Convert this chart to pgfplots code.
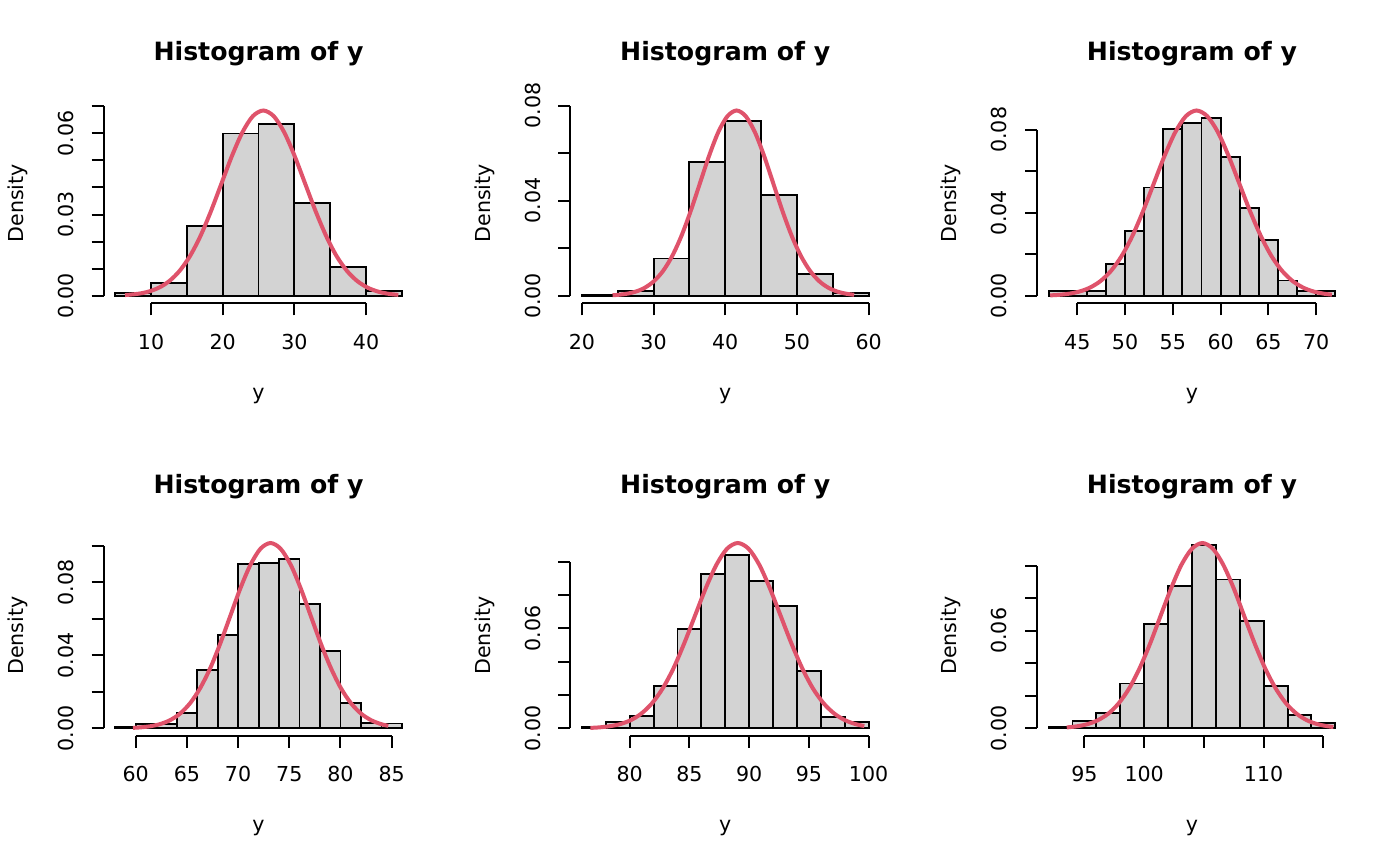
\documentclass[border=0pt]{standalone}
\usepackage{fontspec}
\setmainfont{DejaVu Sans}
\usepackage{pgfplots}
\usepackage{pgfplotstable}
\pgfplotsset{compat=1.18}
\definecolor{rgray}{HTML}{D3D3D3}
\definecolor{rred}{HTML}{DF536B}
\tikzset{aline/.style={line width=1bp, black}}
\pgfplotsset{
  rhist/.style={
    scale only axis, width=154.85bp, height=100.1bp,
    anchor=south west, clip=false,
    axis line style={draw=none},
    tick align=outside, major tick length=6bp,
    tick style={line width=1bp, black},
    major tick style={line width=1bp, black},
    xtick pos=left, ytick pos=left,
    minor tick num=0,
    tick label style={font=\fontsize{10.3bp}{12bp}\selectfont},
    x tick label style={anchor=base, yshift=-17bp},
    y tick label style={xshift=-9.2bp, rotate=90, anchor=base},
    title style={font=\bfseries\fontsize{12.6bp}{15bp}\selectfont, at={(0.5,1.1514)}, anchor=base},
    xlabel style={font=\fontsize{10.3bp}{12bp}\selectfont, at={(0.5,-0.4805)}, anchor=base},
    ylabel style={font=\fontsize{10.3bp}{12bp}\selectfont, at={(-0.2596,0.5)}, anchor=base},
    title={Histogram of y}, xlabel={y}, ylabel={Density},
    scaled y ticks=false, scaled x ticks=false,
  },
  barfill/.style={ybar interval, fill=rgray, draw=none},
  barline/.style={ybar interval, fill=none, draw=black, line width=0.95bp},
  baredge/.style={ycomb, black, line width=0.95bp, no marks},
  dens/.style={smooth, rred, line width=2bp, no marks},
}
% histogram densities: left bin edge, density (last row = right edge)
\pgfplotstableread{
x d
5 0.0011
10 0.0049
15 0.0257
20 0.0599
25 0.0634
30 0.0344
35 0.0108
40 0.0018
45 0.0018
}\hA
\pgfplotstableread{
x d
20 0.0005
25 0.0022
30 0.0157
35 0.0564
40 0.0735
45 0.0424
50 0.0091
55 0.0013
60 0.0013
}\hB
\pgfplotstableread{
x d
42 0.0022
44 0.0022
46 0.0022
48 0.0154
50 0.0312
52 0.0522
54 0.0803
56 0.0831
58 0.0859
60 0.0671
62 0.0422
64 0.0267
66 0.0074
68 0.0022
70 0.0022
72 0.0022
}\hC
\pgfplotstableread{
x d
58 0.0007
60 0.0026
62 0.0026
64 0.0086
66 0.0320
68 0.0511
70 0.0900
72 0.0906
74 0.0930
76 0.0681
78 0.0424
80 0.0137
82 0.0031
84 0.0027
86 0.0027
}\hD
\pgfplotstableread{
x d
76 0.0008
78 0.0036
80 0.0076
82 0.0256
84 0.0596
86 0.0928
88 0.1038
90 0.0882
92 0.0736
94 0.0346
96 0.0070
98 0.0040
100 0.0040
}\hE
\pgfplotstableread{
x d
92 0.0006
94 0.0045
96 0.0092
98 0.0276
100 0.0639
102 0.0874
104 0.1126
106 0.0915
108 0.0661
110 0.0262
112 0.0082
114 0.0033
116 0.0033
}\hF
\begin{document}
\begin{tikzpicture}
\useasboundingbox (0,0) rectangle (700bp,432.5bp);
% ---------- panel 1
\begin{axis}[rhist, at={(51.85bp,280.85bp)},
  xmin=3.4, xmax=46.6, ymin=-0.002736, ymax=0.071136,
  xtick={10,20,30,40}, xticklabels={10,20,30,40},
  ytick={0,0.01,0.02,0.03,0.04,0.05,0.06,0.07},
  yticklabels={0.00,,,0.03,,,0.06,}]
\addplot[barfill] table[x=x,y=d] {\hA};
\addplot[barline] table[x=x,y=d] {\hA};
\addplot[baredge] table[x=x,y=d] {\hA};
\addplot[dens] coordinates {(6.37,0.00029)(8.17,0.00076)(9.63,0.00156)(11.09,0.00301)(12.54,0.00544)(14.00,0.00926)(15.46,0.01479)(16.92,0.02221)(18.37,0.03132)(19.83,0.04149)(21.29,0.05163)(22.75,0.06036)(24.20,0.06630)(25.66,0.0684)(27.12,0.06630)(28.58,0.06036)(30.03,0.05163)(31.49,0.04149)(32.95,0.03132)(34.41,0.02221)(35.86,0.01479)(37.32,0.00926)(38.78,0.00544)(40.24,0.00301)(41.69,0.00156)(43.15,0.00076)(44.50,0.00037)};
\draw[aline] (axis cs:10,-0.002736) -- (axis cs:40,-0.002736);
\draw[aline] (axis cs:3.4,0) -- (axis cs:3.4,0.07);
\end{axis}
% ---------- panel 2
\begin{axis}[rhist, at={(285.2bp,280.85bp)},
  xmin=18.4, xmax=61.6, ymin=-0.003116, ymax=0.081016,
  xtick={20,30,40,50,60}, xticklabels={20,30,40,50,60},
  ytick={0,0.02,0.04,0.06,0.08},
  yticklabels={0.00,,0.04,,0.08}]
\addplot[barfill] table[x=x,y=d] {\hB};
\addplot[barline] table[x=x,y=d] {\hB};
\addplot[baredge] table[x=x,y=d] {\hB};
\addplot[dens] coordinates {(24.28,0.00026)(24.94,0.00040)(26.22,0.00087)(27.50,0.00178)(28.78,0.00342)(30.06,0.00620)(31.34,0.01054)(32.62,0.01685)(33.90,0.02529)(35.18,0.03566)(36.46,0.04725)(37.74,0.05880)(39.02,0.06875)(40.30,0.07550)(41.58,0.0779)(42.86,0.07550)(44.14,0.06875)(45.42,0.05880)(46.70,0.04725)(47.98,0.03566)(49.26,0.02529)(50.54,0.01685)(51.82,0.01054)(53.10,0.00620)(54.38,0.00342)(55.66,0.00178)(56.94,0.00087)(57.98,0.00046)};
\draw[aline] (axis cs:20,-0.003116) -- (axis cs:60,-0.003116);
\draw[aline] (axis cs:18.4,0) -- (axis cs:18.4,0.08);
\end{axis}
% ---------- panel 3
\begin{axis}[rhist, at={(518.55bp,280.85bp)},
  xmin=40.8, xmax=73.2, ymin=-0.003572, ymax=0.092872,
  xtick={45,50,55,60,65,70}, xticklabels={45,50,55,60,65,70},
  ytick={0,0.02,0.04,0.06,0.08},
  yticklabels={0.00,,0.04,,0.08}]
\addplot[barfill] table[x=x,y=d] {\hC};
\addplot[barline] table[x=x,y=d] {\hC};
\addplot[baredge] table[x=x,y=d] {\hC};
\addplot[dens] coordinates {(42.17,0.00025)(42.95,0.00045)(44.07,0.00099)(45.19,0.00204)(46.30,0.00392)(47.42,0.00710)(48.54,0.01209)(49.66,0.01931)(50.78,0.02899)(51.89,0.04088)(53.01,0.05416)(54.13,0.06741)(55.25,0.07881)(56.36,0.08655)(57.48,0.0893)(58.60,0.08655)(59.72,0.07881)(60.83,0.06741)(61.95,0.05416)(63.07,0.04088)(64.19,0.02899)(65.30,0.01931)(66.42,0.01209)(67.54,0.00710)(68.66,0.00392)(69.77,0.00204)(70.89,0.00099)(71.64,0.00059)};
\draw[aline] (axis cs:45,-0.003572) -- (axis cs:70,-0.003572);
\draw[aline] (axis cs:40.8,0) -- (axis cs:40.8,0.08);
\end{axis}
% ---------- panel 4
\begin{axis}[rhist, at={(51.85bp,64.6bp)},
  xmin=56.88, xmax=87.12, ymin=-0.004064, ymax=0.105664,
  xtick={60,65,70,75,80,85}, xticklabels={60,65,70,75,80,85},
  ytick={0,0.02,0.04,0.06,0.08,0.10},
  yticklabels={0.00,,0.04,,0.08,}]
\addplot[barfill] table[x=x,y=d] {\hD};
\addplot[barline] table[x=x,y=d] {\hD};
\addplot[baredge] table[x=x,y=d] {\hD};
\addplot[dens] coordinates {(59.74,0.00030)(60.40,0.00052)(61.38,0.00113)(62.36,0.00232)(63.35,0.00446)(64.33,0.00808)(65.31,0.01375)(66.29,0.02197)(67.28,0.03298)(68.26,0.04652)(69.24,0.06162)(70.22,0.07669)(71.21,0.08966)(72.19,0.09847)(73.17,0.1016)(74.15,0.09847)(75.14,0.08966)(76.12,0.07669)(77.10,0.06162)(78.08,0.04652)(79.07,0.03298)(80.05,0.02197)(81.03,0.01375)(82.01,0.00808)(83.00,0.00446)(83.98,0.00232)(84.67,0.00141)};
\draw[aline] (axis cs:60,-0.004064) -- (axis cs:85,-0.004064);
\draw[aline] (axis cs:56.88,0) -- (axis cs:56.88,0.10);
\end{axis}
% ---------- panel 5
\begin{axis}[rhist, at={(285.2bp,64.6bp)},
  xmin=75.04, xmax=100.96, ymin=-0.004448, ymax=0.115648,
  xtick={80,85,90,95,100}, xticklabels={80,85,90,95,100},
  ytick={0,0.02,0.04,0.06,0.08,0.10},
  yticklabels={0.00,,,0.06,,}]
\addplot[barfill] table[x=x,y=d] {\hE};
\addplot[barline] table[x=x,y=d] {\hE};
\addplot[baredge] table[x=x,y=d] {\hE};
\addplot[dens] coordinates {(76.71,0.00030)(77.38,0.00056)(78.28,0.00124)(79.18,0.00253)(80.08,0.00489)(80.97,0.00885)(81.87,0.01505)(82.77,0.02405)(83.67,0.03610)(84.56,0.05091)(85.46,0.06745)(86.36,0.08394)(87.26,0.09813)(88.15,0.10778)(89.05,0.1112)(89.95,0.10778)(90.85,0.09813)(91.74,0.08394)(92.64,0.06745)(93.54,0.05091)(94.44,0.03610)(95.33,0.02405)(96.23,0.01505)(97.13,0.00885)(98.03,0.00489)(98.92,0.00253)(99.64,0.00143)};
\draw[aline] (axis cs:80,-0.004448) -- (axis cs:100,-0.004448);
\draw[aline] (axis cs:75.04,0) -- (axis cs:75.04,0.10);
\end{axis}
% ---------- panel 6
\begin{axis}[rhist, at={(518.55bp,64.6bp)},
  xmin=91.04, xmax=116.96, ymin=-0.004556, ymax=0.118456,
  xtick={95,100,105,110,115}, xticklabels={95,100,,110,},
  ytick={0,0.02,0.04,0.06,0.08,0.10},
  yticklabels={0.00,,,0.06,,}]
\addplot[barfill] table[x=x,y=d] {\hF};
\addplot[barline] table[x=x,y=d] {\hF};
\addplot[baredge] table[x=x,y=d] {\hF};
\addplot[dens] coordinates {(93.52,0.00059)(94.37,0.00127)(95.25,0.00260)(96.12,0.00500)(97.00,0.00906)(97.87,0.01541)(98.75,0.02463)(99.62,0.03698)(100.50,0.05215)(101.37,0.06908)(102.25,0.08598)(103.12,0.10052)(104.00,0.11039)(104.87,0.1139)(105.75,0.11039)(106.62,0.10052)(107.50,0.08598)(108.37,0.06908)(109.25,0.05215)(110.12,0.03698)(111.00,0.02463)(111.87,0.01541)(112.75,0.00906)(113.62,0.00500)(114.50,0.00260)(115.37,0.00127)(115.84,0.00084)};
\draw[aline] (axis cs:95,-0.004556) -- (axis cs:115,-0.004556);
\draw[aline] (axis cs:91.04,0) -- (axis cs:91.04,0.10);
\end{axis}
\end{tikzpicture}
\end{document}
